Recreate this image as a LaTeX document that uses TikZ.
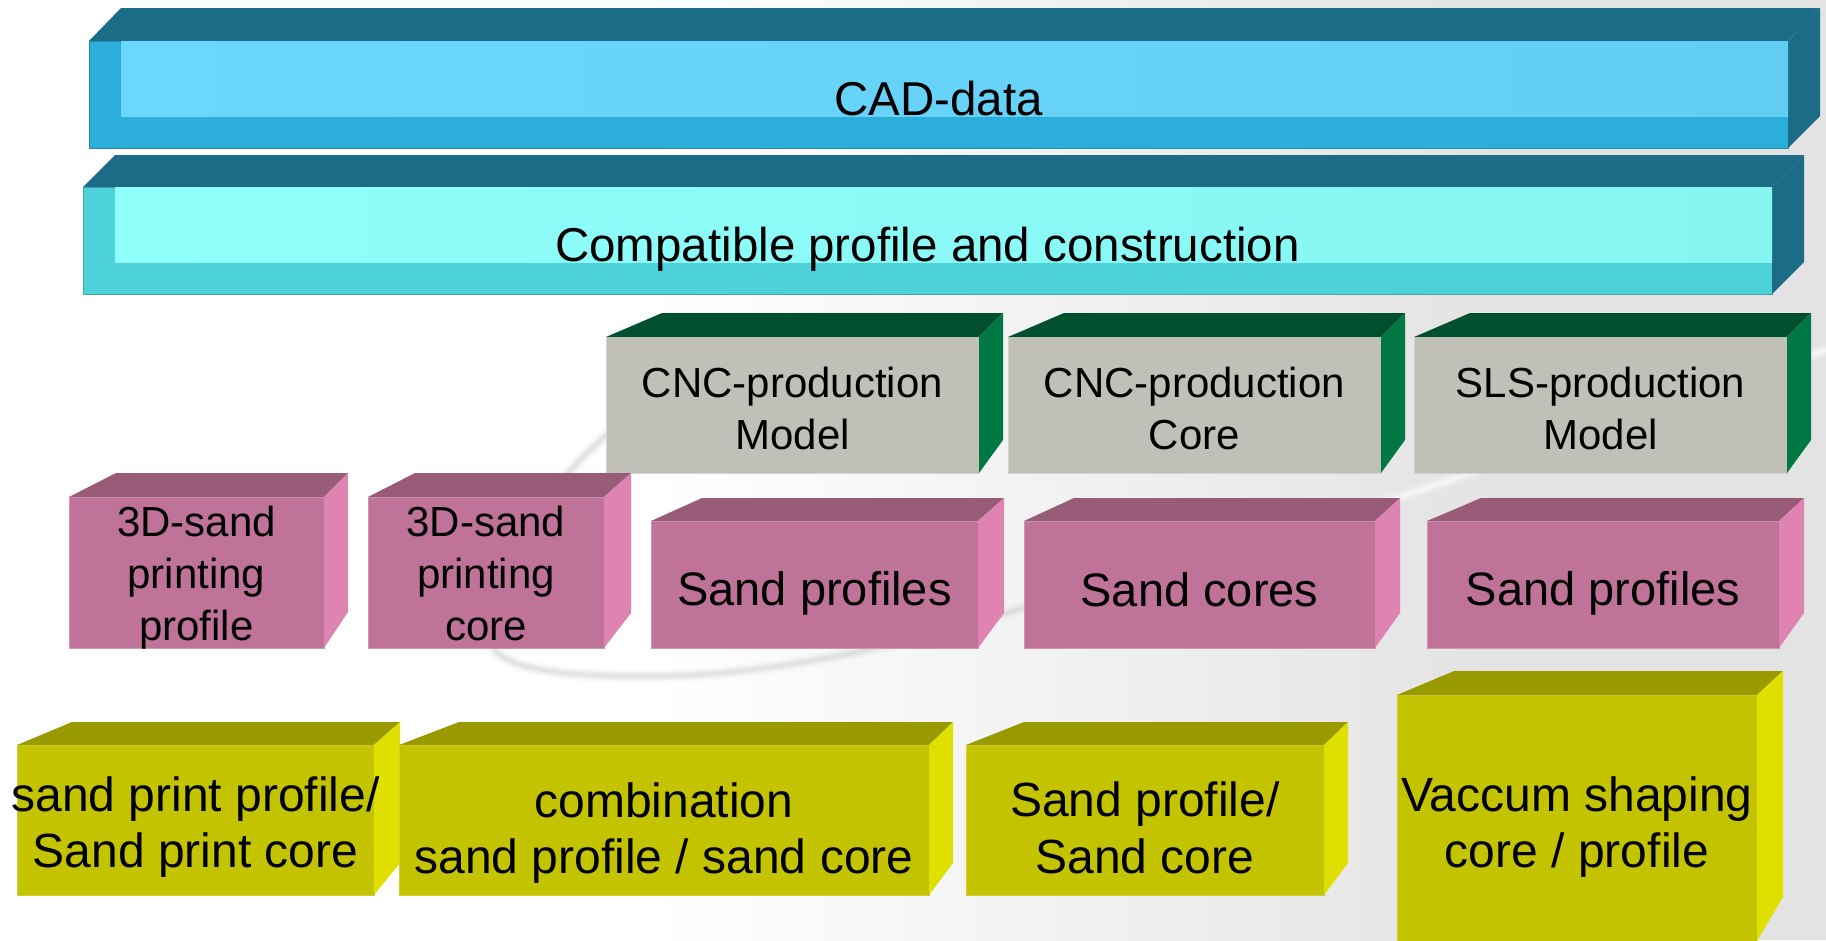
\documentclass[tikz,border=0pt]{standalone}
\usepackage{fontspec}
\setmainfont{Liberation Sans}
\usetikzlibrary{calc}

% palette
\definecolor{bgGray}{HTML}{E3E3E3}
\definecolor{swooshGray}{HTML}{C4C4C4}
\definecolor{cadTop}{HTML}{1B6C87}
\definecolor{cadSide}{HTML}{1B6C87}
\definecolor{cadF}{HTML}{2BAFDA}
\definecolor{cadLa}{HTML}{6BD7FC}
\definecolor{cadLb}{HTML}{62CEF3}
\definecolor{cmpTop}{HTML}{1C6B87}
\definecolor{cmpSide}{HTML}{1C6B87}
\definecolor{cmpF}{HTML}{4ED2D9}
\definecolor{cmpLa}{HTML}{90FEFA}
\definecolor{cmpLb}{HTML}{86F4F1}
\definecolor{grayF}{HTML}{C0C0B8}
\definecolor{grayTop}{HTML}{00502F}
\definecolor{graySide}{HTML}{007844}
\definecolor{magF}{HTML}{C07399}
\definecolor{magTop}{HTML}{985B78}
\definecolor{magSide}{HTML}{DE83B2}
\definecolor{yelF}{HTML}{C4C300}
\definecolor{yelTop}{HTML}{999900}
\definecolor{yelSide}{HTML}{E0E000}

\tikzset{
  face/.style={anchor=north west, inner sep=0pt, outer sep=0pt, line width=1pt},
  cadface/.style={face, fill=cadF, draw=cadF!80!black},
  cmpface/.style={face, fill=cmpF, draw=cmpF!80!black},
  grayface/.style={face, fill=grayF, draw=grayF!70!white},
  magface/.style={face, fill=magF, draw=magF!75!white},
  yelface/.style={face, fill=yelF, draw=yelF!80!white},
  txt/.style={align=center, inner sep=0pt, outer sep=0pt, text=black},
  fbar/.style={font=\fontsize{47.5}{57}\selectfont},
  fsmall/.style={font=\fontsize{42}{52}\selectfont},
  fmid/.style={font=\fontsize{47}{56}\selectfont},
  fbig/.style={font=\fontsize{48}{56.5}\selectfont},
}

% top and right faces of a box whose front face is node #1
% #2 top-left depth, #3 top-right depth, #4 rise, #5 rise of back-bottom corner, #6 colour family
\newcommand\boxsides[6]{%
  \fill[#6Top] (#1.north west) -- ++(#2,-#4) -- ($(#1.north east)+(#3,-#4)$)
     -- (#1.north east) -- cycle;
  \fill[#6Side] (#1.north east) -- ++(#3,-#4) -- ($(#1.south east)+(#3,-#5)$)
     -- (#1.south east) -- cycle;
}

\begin{document}
\begin{tikzpicture}[x=1pt,y=-1pt]
\useasboundingbox (0,0) rectangle (1826,940);
\clip (0,0) rectangle (1826,940);

% backdrop
\fill[white] (0,0) rectangle (1826,940);
\shade[left color=white, right color=bgGray] (650,0) rectangle (1501,940);
\fill[bgGray] (1500,0) rectangle (1826,940);

% faint swoosh behind the boxes
\foreach \w/\o in {13/0.10, 8/0.16, 4/0.24}{
  \draw[swooshGray, line width=\w, opacity=\o, line cap=round]
    (610,432) .. controls (530,500) and (470,610) .. (495,650)
    .. controls (515,675) and (600,677) .. (660,676)
    .. controls (780,675) and (920,640) .. (1010,612)
    .. controls (1100,585) and (1150,570) .. (1200,556);
  \draw[white, line width=\w, opacity=1.6*\o, line cap=round]
    (1200,556) .. controls (1450,490) and (1620,415) .. (1826,350);
}

% ---- CAD-data bar
\node[cadface, minimum width=1699pt, minimum height=107pt] (cad) at (89,41) {};
\boxsides{cad}{32}{32}{33}{32}{cad}
\shade[left color=cadLa, right color=cadLb]
  ($(cad.north west)+(32,0)$) rectangle ($(cad.south east)+(0,-32)$);
\node[txt, fbar] (cad-t) at ($(cad.center)+(0,4)$) {CAD-data};

% ---- construction bar
\node[cmpface, minimum width=1689pt, minimum height=107pt] (cmp) at (83,187) {};
\boxsides{cmp}{32}{32}{32}{32}{cmp}
\shade[left color=cmpLa, right color=cmpLb]
  ($(cmp.north west)+(32,0)$) rectangle ($(cmp.south east)+(0,-32)$);
\node[txt, fbar] (cmp-t) at ($(cmp.center)+(0,9)$) {Compatible profile and construction};

% ---- production row
\node[grayface, minimum width=373pt, minimum height=136pt] (cncm) at (606,337) {};
\boxsides{cncm}{56}{24}{24}{33}{gray}
\node[txt, fsmall] (cncm-t) at ($(cncm.center)+(0,3)$) {CNC-production\\Model};

\node[grayface, minimum width=373pt, minimum height=136pt] (cncc) at (1008,337) {};
\boxsides{cncc}{56}{24}{24}{33}{gray}
\node[txt, fsmall] (cncc-t) at ($(cncc.center)+(0,3)$) {CNC-production\\Core};

\node[grayface, minimum width=373pt, minimum height=136pt] (sls) at (1414,337) {};
\boxsides{sls}{56}{24}{24}{33}{gray}
\node[txt, fsmall] (sls-t) at ($(sls.center)+(0,3)$) {SLS-production\\Model};

% ---- sand row
\node[magface, minimum width=255pt, minimum height=151pt] (sp1) at (69,497) {};
\boxsides{sp1}{47}{24}{24}{36}{mag}
\node[txt, fsmall] (sp1-t) at ($(sp1.center)+(0,5)$) {3D-sand\\printing\\profile};

\node[magface, minimum width=236pt, minimum height=151pt] (sp2) at (368,497) {};
\boxsides{sp2}{47}{27}{24}{35}{mag}
\node[txt, fsmall] (sp2-t) at ($(sp2.center)+(0,1)$) {3D-sand\\printing\\core};

\node[magface, minimum width=327pt, minimum height=127pt] (sp3) at (651,521) {};
\boxsides{sp3}{51}{26}{23}{35}{mag}
\node[txt, fmid] (sp3-t) at ($(sp3.center)+(0,9)$) {Sand profiles};

\node[magface, minimum width=351pt, minimum height=127pt] (sp4) at (1024,521) {};
\boxsides{sp4}{50}{25}{23}{35}{mag}
\node[txt, fmid] (sp4-t) at ($(sp4.center)+(0,5)$) {Sand cores};

\node[magface, minimum width=352pt, minimum height=127pt] (sp5) at (1427,521) {};
\boxsides{sp5}{54}{25}{23}{35}{mag}
\node[txt, fmid] (sp5-t) at ($(sp5.center)+(0,9)$) {Sand profiles};

% ---- result row
\node[yelface, minimum width=357pt, minimum height=150pt] (r1) at (17,745) {};
\boxsides{r1}{55}{26}{23}{32}{yel}
\node[txt, fbig] (r1-t) at ($(r1.center)+(0,7)$) {sand print profile/\\Sand print core};

\node[yelface, minimum width=530pt, minimum height=150pt] (r2) at (399,745) {};
\boxsides{r2}{60}{24}{23}{32}{yel}
\node[txt, fbig] (r2-t) at ($(r2.center)+(0,13)$) {combination\\sand profile / sand core};

\node[yelface, minimum width=358pt, minimum height=150pt] (r3) at (966,745) {};
\boxsides{r3}{58}{24}{23}{32}{yel}
\node[txt, fbig] (r3-t) at ($(r3.center)+(0,8)$) {Sand profile/\\Sand core};

\node[yelface, minimum width=360pt, minimum height=246pt] (r4) at (1397,695) {};
\boxsides{r4}{57}{26}{24}{44}{yel}
\node[txt, fbig] (r4-t) at ($(r4.north)+(0,132)$) {Vaccum shaping\\core / profile};

\end{tikzpicture}
\end{document}
